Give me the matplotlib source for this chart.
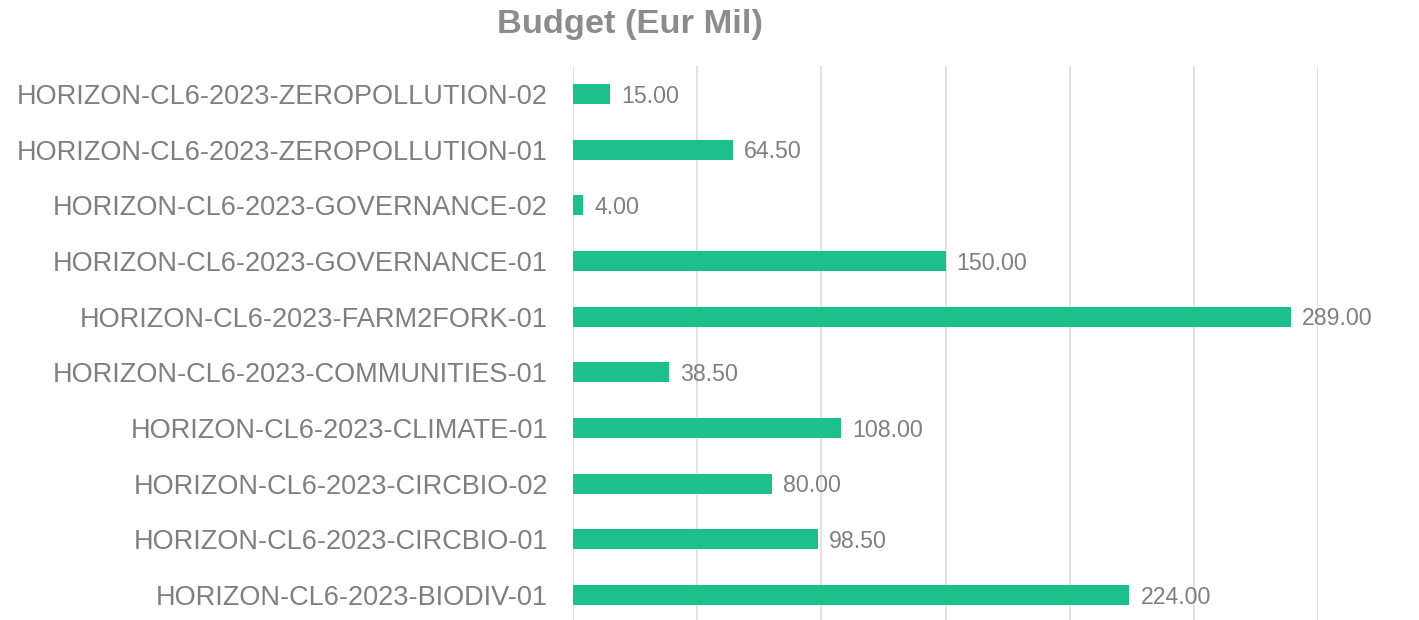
import matplotlib
matplotlib.use("Agg")
import numpy as np
from matplotlib import pyplot as plt

# Chart data, bottom to top.
calls = [
    "HORIZON-CL6-2023-BIODIV-01",
    "HORIZON-CL6-2023-CIRCBIO-01",
    "HORIZON-CL6-2023-CIRCBIO-02",
    "HORIZON-CL6-2023-CLIMATE-01",
    "HORIZON-CL6-2023-COMMUNITIES-01",
    "HORIZON-CL6-2023-FARM2FORK-01",
    "HORIZON-CL6-2023-GOVERNANCE-01",
    "HORIZON-CL6-2023-GOVERNANCE-02",
    "HORIZON-CL6-2023-ZEROPOLLUTION-01",
    "HORIZON-CL6-2023-ZEROPOLLUTION-02",
]
budget = [224.0, 98.5, 80.0, 108.0, 38.5, 289.0, 150.0, 4.0, 64.5, 15.0]
xticks = [0, 50, 100, 150, 200, 250, 300]

# Colours and font.
barColor = "#1DBF8A"
textColor = "#7F7F7F"
gridColor = "#E3E3E3"
plt.rcParams['font.family'] = ['Liberation Sans', 'DejaVu Sans']

# Figure and axes, placed by pixel positions of the reference.
W, H = 1419, 620
fig = plt.figure(figsize=(W/100, H/100), dpi=100)
ax = fig.add_axes([573/W, -0.0045, (1318-573)/W, 0.898])

y = np.arange(len(calls))
ax.barh(y, budget, height=0.36, color=barColor, zorder=3)

# Value labels next to each bar.
for yi, v in zip(y, budget):
    ax.text(v + 4.5, yi - 0.04, f"{v:.2f}", va="center", ha="left",
            fontsize=16.7, color=textColor, zorder=4)

ax.set_xlim(0, 300)
ax.set_ylim(-0.5, len(calls) - 0.5)
ax.set_xticks(xticks)
ax.set_xticklabels([])
ax.set_yticks(y)
ax.set_yticklabels(calls, fontsize=19.5, color=textColor)
ax.tick_params(axis="both", length=0)
ax.tick_params(axis="y", pad=18)

# Vertical gridlines only.
ax.grid(axis="x", color=gridColor, linewidth=1.5, zorder=0)
for side in ax.spines.values():
    side.set_visible(False)

# Title.
fig.text(630/W, 1 - 25/H, "Budget (Eur Mil)", ha="center", va="center",
         fontsize=24.8, fontweight="bold", color="#8C8C8C")

fig.savefig("out.png", dpi=100)
